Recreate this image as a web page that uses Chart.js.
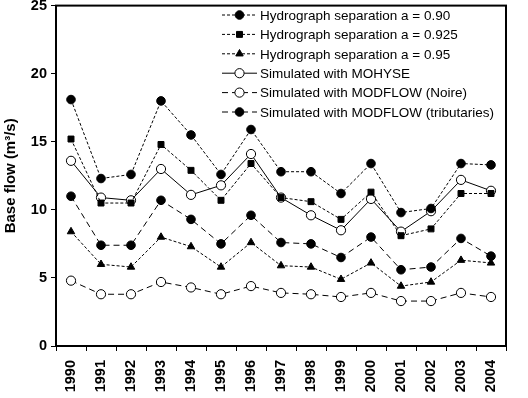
<!DOCTYPE html>
<html>
<head>
<meta charset="utf-8">
<script src="https://cdn.jsdelivr.net/npm/chart.js@4/dist/chart.umd.min.js"></script>
<style>
  html, body { margin: 0; padding: 0; background: #fff; }
  #wrap { width: 528px; height: 398px; }
</style>
</head>
<body>
<div id="wrap"><canvas id="chart" width="528" height="398"></canvas></div>
<script>
const years = ["1990","1991","1992","1993","1994","1995","1996","1997","1998","1999","2000","2001","2002","2003","2004"];

const hydro090 = [18.1, 12.3, 12.6, 18.0, 15.5, 12.6, 15.9, 12.8, 12.8, 11.2, 13.4, 9.8, 10.1, 13.4, 13.3];
const hydro0925 = [15.2, 10.5, 10.5, 14.8, 12.9, 10.7, 13.4, 10.9, 10.6, 9.3, 11.3, 8.1, 8.6, 11.2, 11.2];
const hydro095 = [8.4, 6.0, 5.8, 8.0, 7.3, 5.8, 7.6, 5.9, 5.8, 4.9, 6.1, 4.4, 4.7, 6.3, 6.1];
const mohyse = [13.6, 10.9, 10.7, 13.0, 11.1, 11.8, 14.1, 10.9, 9.6, 8.5, 10.8, 8.4, 9.9, 12.2, 11.4];
const modflowNoire = [4.8, 3.8, 3.8, 4.7, 4.3, 3.8, 4.4, 3.9, 3.8, 3.6, 3.9, 3.3, 3.3, 3.9, 3.6];
const modflowTrib = [11.0, 7.4, 7.4, 10.7, 9.3, 7.5, 9.6, 7.6, 7.5, 6.5, 8.0, 5.6, 5.8, 7.9, 6.6];

const yTicks = [0, 5, 10, 15, 20, 25];

const FONT = "Arial, 'Liberation Sans', sans-serif";

function series(label, data, style, dash, fill) {
  return {
    label: label,
    data: data,
    borderColor: "#000",
    borderWidth: 1,
    borderDash: dash,
    pointStyle: style,
    pointRadius: style === "rect" ? 4.2 : (fill ? 4.3 : 4.6),
    pointBorderWidth: 1,
    pointBorderColor: "#000",
    pointBackgroundColor: fill ? "#000" : "#fff",
    tension: 0,
    fill: false,
  };
}

// legend drawn by hand so the dashed line and marker show together
const customLegend = {
  id: "customLegend",
  afterDraw(chart) {
    const ctx = chart.ctx;
    const x0 = 222, x1 = 257, tx = 260;
    const y0 = 15, dy = 19.4;
    ctx.save();
    ctx.textBaseline = "middle";
    chart.data.datasets.forEach((ds, i) => {
      const y = y0 + i * dy;
      ctx.strokeStyle = "#000";
      ctx.lineWidth = 1;
      ctx.setLineDash(ds.borderDash);
      ctx.beginPath();
      ctx.moveTo(x0, y);
      ctx.lineTo(x1, y);
      ctx.stroke();
      ctx.setLineDash([]);
      ctx.fillStyle = ds.pointBackgroundColor;
      Chart.helpers.drawPoint(ctx, { pointStyle: ds.pointStyle, radius: ds.pointRadius, borderWidth: 1 }, (x0 + x1) / 2, y);
      ctx.fillStyle = "#000";
      ctx.font = "13.5px " + FONT;
      ctx.fillText(ds.label, tx, y + 1);
    });
    ctx.restore();
  },
};

// heavy frame round the plot area
const frame = {
  id: "frame",
  afterDatasetsDraw(chart) {
    const a = chart.chartArea;
    const ctx = chart.ctx;
    ctx.save();
    ctx.strokeStyle = "#000";
    ctx.lineWidth = 2;
    ctx.strokeRect(a.left, a.top, a.right - a.left, a.bottom - a.top);
    ctx.restore();
  },
};

new Chart(document.getElementById("chart"), {
  type: "line",
  data: {
    labels: years,
    datasets: [
      series("Hydrograph separation a = 0.90", hydro090, "circle", [3, 2], true),
      series("Hydrograph separation a = 0.925", hydro0925, "rect", [3, 2], true),
      series("Hydrograph separation a = 0.95", hydro095, "triangle", [3, 2], true),
      series("Simulated with MOHYSE", mohyse, "circle", [], false),
      series("Simulated with MODFLOW (Noire)", modflowNoire, "circle", [6, 4], false),
      series("Simulated with MODFLOW (tributaries)", modflowTrib, "circle", [6, 4], true),
    ],
  },
  options: {
    responsive: false,
    animation: false,
    layout: { padding: { top: 5, right: 22, left: 2, bottom: 0 } },
    plugins: {
      legend: { display: false },
      tooltip: { enabled: false },
    },
    scales: {
      x: {
        offset: true,
        grid: { offset: true, drawOnChartArea: false, drawTicks: true, tickLength: 5, color: "#000", lineWidth: 1 },
        border: { display: true, color: "#000", width: 2 },
        ticks: {
          color: "#000",
          font: { family: FONT, size: 14.5, weight: "bold" },
          minRotation: 90,
          maxRotation: 90,
          padding: 9,
          autoSkip: false,
        },
        afterFit(scale) {
          scale.height = 52;
          scale.paddingLeft = 0;
          scale.paddingRight = 0;
        },
      },
      y: {
        min: 0,
        max: 25,
        afterBuildTicks(scale) { scale.ticks = yTicks.map(v => ({ value: v })); },
        grid: { drawOnChartArea: false, drawTicks: true, tickLength: 5, color: "#000", lineWidth: 1 },
        border: { display: true, color: "#000", width: 2 },
        ticks: {
          color: "#000",
          font: { family: FONT, size: 14.5, weight: "bold" },
          padding: 4,
        },
        title: {
          display: true,
          text: "Base flow (m³/s)",
          color: "#000",
          font: { family: FONT, size: 15, weight: "bold" },
          padding: { top: 0, bottom: 4 },
        },
        afterFit(scale) {
          scale.width = 54;
          scale.paddingTop = 0;
          scale.paddingBottom = 0;
        },
      },
    },
  },
  plugins: [customLegend, frame],
});
</script>
</body>
</html>
